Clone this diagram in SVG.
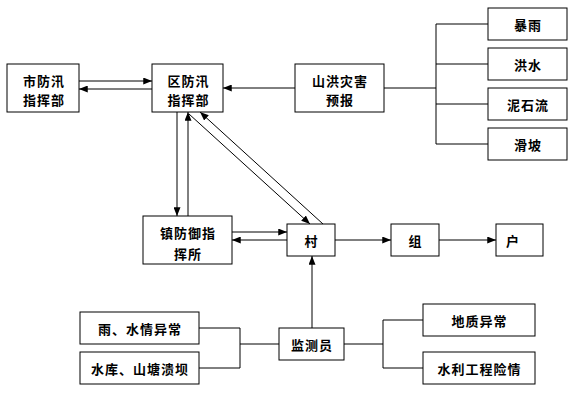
<svg xmlns="http://www.w3.org/2000/svg" width="576" height="408" viewBox="0 0 576 408">
<defs>
<marker id="ah" viewBox="0 0 10 8" refX="10" refY="4" markerWidth="9" markerHeight="7" markerUnits="userSpaceOnUse" orient="auto">
<path d="M0,0 L10,4 L0,8 Z" fill="#000"/>
</marker>
</defs>
<style>
rect{fill:#fff;stroke:#000;stroke-width:1}
text{font-family:"Noto Sans CJK SC","Noto Sans CJK JP",sans-serif;font-size:13px;font-weight:bold;letter-spacing:1px;text-anchor:middle;dominant-baseline:central;fill:#000}
.c line,.c polyline{stroke:#000;stroke-width:1;fill:none}
.a{marker-end:url(#ah)}
</style>
<rect x="0" y="0" width="576" height="408" style="stroke:none"/>
<g class="c" id="connectors">
<line class="a" x1="79" y1="81" x2="152" y2="81"/>
<line class="a" x1="152" y1="89" x2="79" y2="89"/>
<line class="a" x1="295" y1="88" x2="223" y2="88"/>
<polyline points="384,88 436,88"/>
<line x1="436" y1="24" x2="436" y2="144"/>
<line x1="436" y1="24" x2="488" y2="24"/>
<line x1="436" y1="64" x2="488" y2="64"/>
<line x1="436" y1="104" x2="488" y2="104"/>
<line x1="436" y1="144" x2="488" y2="144"/>
<line class="a" x1="177" y1="112" x2="177" y2="216"/>
<line class="a" x1="188" y1="216" x2="188" y2="112"/>
<line class="a" x1="189" y1="114" x2="310" y2="224"/>
<line class="a" x1="323" y1="224" x2="200" y2="112"/>
<line class="a" x1="232" y1="232" x2="287" y2="232"/>
<line class="a" x1="287" y1="240" x2="232" y2="240"/>
<line class="a" x1="335" y1="240" x2="391" y2="240"/>
<line class="a" x1="439" y1="240" x2="496" y2="240"/>
<line class="a" x1="312" y1="328" x2="312" y2="256"/>
<polyline points="199,328 240,328 240,368 199,368"/>
<line x1="240" y1="344" x2="279" y2="344"/>
<line x1="344" y1="344" x2="383" y2="344"/>
<polyline points="423,320 383,320 383,368 423,368"/>
</g>
<g id="shi"><rect x="7" y="64" width="72" height="48"/><text x="44" y="80">市防汛</text><text x="44" y="99">指挥部</text></g>
<g id="qu"><rect x="152" y="64" width="71" height="48"/><text x="188.5" y="80">区防汛</text><text x="188.5" y="99">指挥部</text></g>
<g id="yubao"><rect x="295" y="64" width="89" height="48"/><text x="340" y="80">山洪灾害</text><text x="340" y="99">预报</text></g>
<g id="baoyu"><rect x="488" y="8" width="79" height="32"/><text x="528" y="24">暴雨</text></g>
<g id="hongshui"><rect x="488" y="48" width="79" height="32"/><text x="528" y="64">洪水</text></g>
<g id="nishiliu"><rect x="488" y="88" width="79" height="32"/><text x="528" y="104">泥石流</text></g>
<g id="huapo"><rect x="488" y="128" width="79" height="32"/><text x="528" y="144">滑坡</text></g>
<g id="zhen"><rect x="143" y="216" width="89" height="48"/><text x="188" y="232">镇防御指</text><text x="188" y="253">挥所</text></g>
<g id="cun"><rect x="287" y="224" width="48" height="32"/><text x="311.5" y="240">村</text></g>
<g id="zu"><rect x="391" y="224" width="48" height="32"/><text x="415.5" y="240">组</text></g>
<g id="hu"><rect x="496" y="224" width="47" height="32"/><text x="513" y="240">户</text></g>
<g id="jianceyuan"><rect x="279" y="328" width="65" height="32"/><text x="312" y="344">监测员</text></g>
<g id="yushui"><rect x="80" y="312" width="119" height="32"/><text x="140" y="328">雨、水情异常</text></g>
<g id="shuiku"><rect x="80" y="352" width="119" height="32"/><text x="140" y="368">水库、山塘溃坝</text></g>
<g id="dizhi"><rect x="423" y="304" width="112" height="32"/><text x="479.5" y="320">地质异常</text></g>
<g id="shuili"><rect x="423" y="352" width="112" height="32"/><text x="479.5" y="368">水利工程险情</text></g>
</svg>
